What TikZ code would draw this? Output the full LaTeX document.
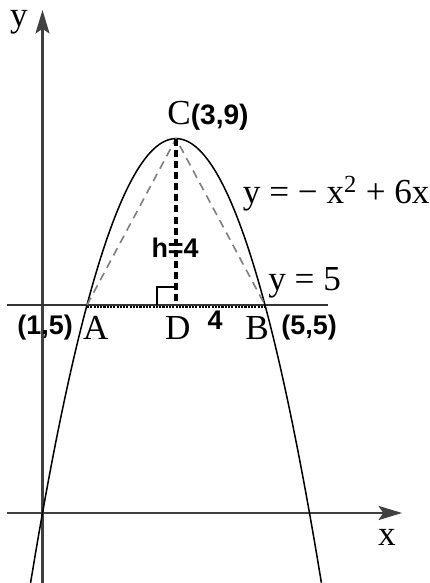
\documentclass[tikz,border=0pt]{standalone}
\usepackage{fontspec}
\setmainfont{Liberation Serif}
\setsansfont{Liberation Sans}
\usetikzlibrary{arrows.meta}

\begin{document}
\begin{tikzpicture}
          [x = 1.335cm, y = 1.248cm, samples = 200, >= {Stealth[length=20pt, width=12pt, inset=4pt]},
           serif/.style = {font = \fontsize{30}{30}\selectfont, inner sep = 0pt},
           bold/.style = {font = \fontsize{23}{23}\selectfont\sffamily\bfseries, inner sep = 0pt}]
          \useasboundingbox (-0.955,-1.683) rectangle (8.708,12.332);
          \coordinate (O) at (0,0);
          \coordinate (A) at (1,5);
          \coordinate (B) at (5,5);
          \coordinate (C) at (3,9);
          \coordinate (D) at (3,5);
          % axes
          \draw[->, line width = 1.9pt, black!75] (-0.8,0) -- (8.08,0);
          \draw[->, line width = 1.9pt, black!75] (0,-1.683) -- (0,12.09);
          \node[serif] (xlab) at (7.74,-0.58) {x};
          \node[serif] (ylab) at (-0.53,11.8) {y};
          % y = 5 and the parabola
          \draw[line width = 1.3pt, black!80] (-0.8,5) -- (6.42,5);
          \draw[line width = 1.8pt, densely dotted] ([yshift=-1.8pt]A) -- ([yshift=-1.8pt]B);
          \draw[line width = 1.3pt] plot[domain = -0.27:6.27] (\x, {-\x*\x + 6*\x});
          % triangle and height
          \draw[dash pattern = on 7pt off 5pt, line width = 1.4pt, black!50] (A) -- (C) -- (B);
          \draw[dash pattern = on 6pt off 3.5pt, line width = 2.6pt] (C) -- (D);
          \draw[line width = 1.2pt] (2.57,5) -- (2.57,5.43) -- (3,5.43);
          % labels
          \node[serif, anchor = south west] (Clab) at (2.8,9.2) {C\textsf{\textbf{\fontsize{24}{24}\selectfont(3,9)}}};
          \node[serif, anchor = west] (curve) at (4.5,7.68) {y = − x\textsuperscript{2} + 6x};
          \node[serif, anchor = west] (line) at (5.07,5.53) {y = 5};
          \node[bold] (h) at (2.98,6.37) {h=4};
          \node[bold] (P1) at (0.06,4.45) {(1,5)};
          \node[serif] (Alab) at (1.2,4.45) {A};
          \node[serif] (Dlab) at (3.04,4.45) {D};
          \node[bold] (len) at (3.88,4.64) {4};
          \node[serif] (Blab) at (4.82,4.45) {B};
          \node[bold] (P5) at (5.99,4.45) {(5,5)};
        \end{tikzpicture}
\end{document}
